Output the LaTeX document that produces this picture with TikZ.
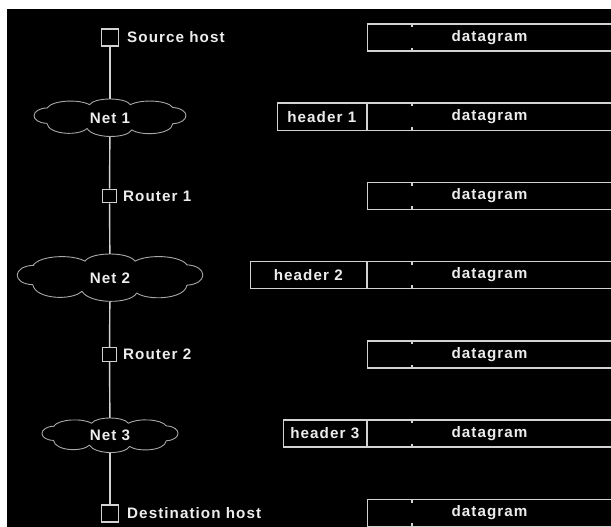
\documentclass[tikz,border=0pt]{standalone}
\usepackage{fontspec}
\setmainfont{Liberation Sans}[LetterSpace=7]
\definecolor{ink}{HTML}{D2D2D2}
\definecolor{txt}{HTML}{EDEDED}
\definecolor{puff}{HTML}{A8A8A8}
\tikzset{
  lbl/.style={text=txt, font=\bfseries\fontsize{15.2}{17}\selectfont, inner sep=0pt},
  host/.style={draw=ink, line width=1.4pt, rectangle, minimum size=17pt, inner sep=0pt},
  router/.style={draw=ink, line width=1.4pt, rectangle, minimum size=13.5pt, inner sep=0pt},
  net/.style={rectangle, inner sep=0pt, text=txt, font=\bfseries\fontsize{15.2}{17}\selectfont},
  pkt/.style={draw=ink, line width=1.4pt, rectangle, minimum height=27pt, inner sep=0pt,
    text=txt, font=\bfseries\fontsize{15.2}{17}\selectfont},
  wire/.style={draw=ink, line width=1.4pt},
  tick/.style={draw=ink, line width=1.2pt},
  puffline/.style={draw=puff, line width=0.9pt, line join=round}
}
% cloud outline round a node: #1 node name, #2 half width, #3 half height
\newcommand\netcloud[3]{%
  \draw[puffline, shift={(#1.center)}, xscale=#2, yscale=#3]
    (-0.822,-0.53) .. controls (-0.75,-0.95) and (-0.40,-1.0) .. (-0.268,-0.70)
    .. controls (-0.2,-1.1) and (0.2,-1.1) .. (0.268,-0.70)
    .. controls (0.40,-1.0) and (0.75,-0.95) .. (0.822,-0.55)
    .. controls (1.05,-0.5) and (1.05,0.25) .. (0.822,0.30)
    .. controls (0.8,0.9) and (0.4,0.95) .. (0.286,0.625)
    .. controls (0.22,1.1) and (-0.22,1.1) .. (-0.30,0.55)
    .. controls (-0.4,0.95) and (-0.8,0.9) .. (-0.825,0.28)
    .. controls (-1.05,0.25) and (-1.05,-0.5) .. cycle;}
\begin{document}
\begin{tikzpicture}[x=1pt,y=-1pt]
\useasboundingbox (0,0) rectangle (611,527);
\fill[white] (0,0) rectangle (611,527);
\clip (0,0) rectangle (611,527);
\fill[black] (7,9) rectangle (611,527);

% hosts, routers and networks along the path
\node[host] (src) at (110,37.5) {};
\node[lbl, anchor=west] (srcl) at (127,37.5) {Source host};
\node[net, minimum width=153pt, minimum height=38pt] (n1) at (110,118) {Net 1};
\node[router] (r1) at (109.5,196) {};
\node[lbl, anchor=west] (r1l) at (123,196) {Router 1};
\node[net, minimum width=187pt, minimum height=48pt] (n2) at (110,278) {Net 2};
\node[router] (r2) at (109.5,354.5) {};
\node[lbl, anchor=west] (r2l) at (123,354.5) {Router 2};
\node[net, minimum width=137pt, minimum height=35pt] (n3) at (110,435.5) {Net 3};
\node[host] (dst) at (110,513.5) {};
\node[lbl, anchor=west] (dstl) at (127,513.5) {Destination host};

\netcloud{n1}{76.5}{19}
\netcloud{n2}{93.5}{24}
\netcloud{n3}{68.5}{17.5}

\draw[wire] (src) -- (n1);
\draw[wire] (n1) -- (r1);
\draw[wire] (r1) -- (n2);
\draw[wire] (n2) -- (r2);
\draw[wire] (r2) -- (n3);
\draw[wire] (n3) -- (dst);

% datagram boxes, one per stage
\foreach \i/\y in {1/37.5,2/116.7,3/195.9,4/275.1,5/354.3,6/433.5,7/512.7}{
  \node[pkt, anchor=west, minimum width=260pt] (d\i) at (367,\y) {};
  \node[lbl] (dt\i) at (489.5,\y) {datagram};
  \draw[tick] ([xshift=45pt]d\i.north west) -- ++(0,4);
  \draw[tick] ([xshift=45pt]d\i.south west) -- ++(0,-4);
}

% link-layer headers in front of the datagram
\node[pkt, anchor=east, minimum width=89pt] (h1) at (d2.west) {header 1};
\node[pkt, anchor=east, minimum width=116pt] (h2) at (d4.west) {header 2};
\node[pkt, anchor=east, minimum width=83pt] (h3) at (d6.west) {header 3};
\end{tikzpicture}
\end{document}
